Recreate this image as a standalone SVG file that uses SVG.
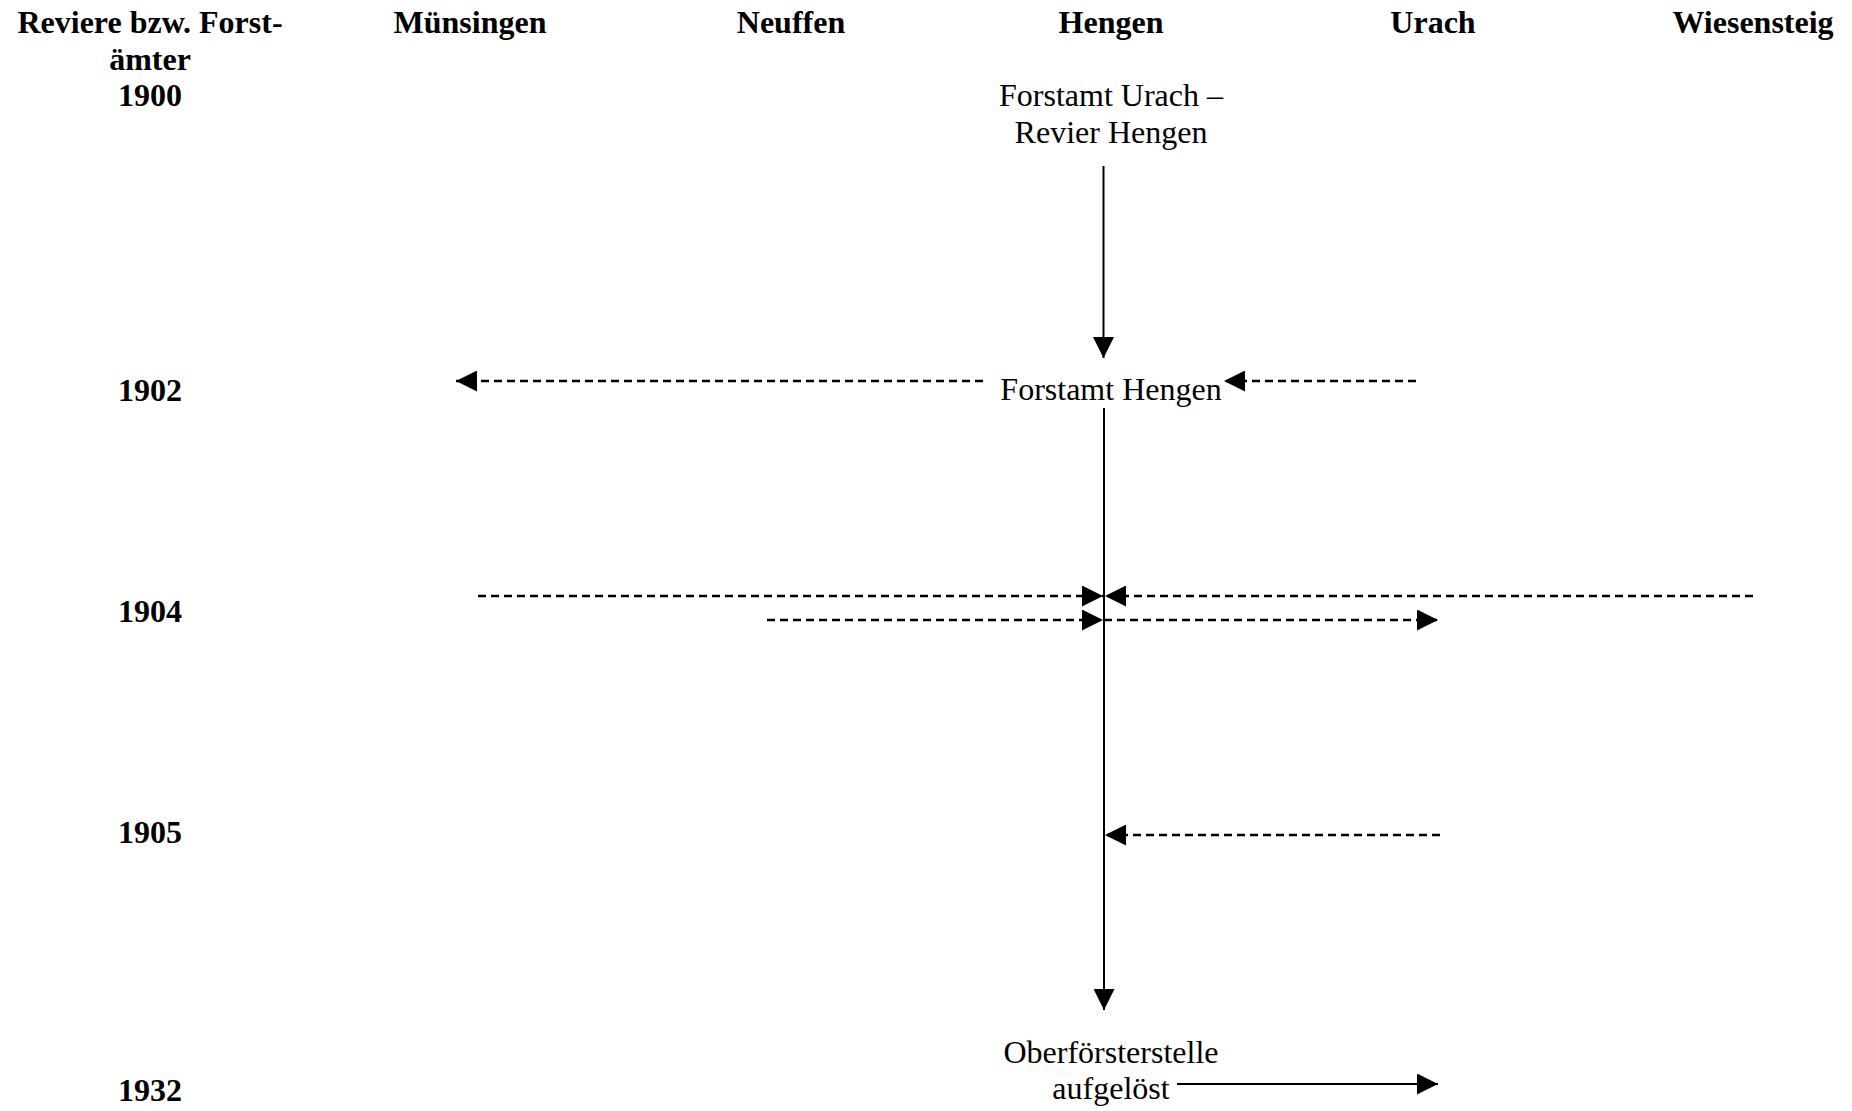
<svg xmlns="http://www.w3.org/2000/svg" width="1852" height="1111" viewBox="0 0 1852 1111">
<style>
  text { font-family: "Liberation Serif", "Times New Roman", serif; font-size: 32px; fill: #000; text-anchor: middle; }
  .b { font-weight: bold; }
  .ln { stroke: #000; stroke-width: 2; fill: none; }
  .dash { stroke-dasharray: 8 5; stroke-width: 2.5; }
</style>
<defs>
  <marker id="ah" markerUnits="userSpaceOnUse" markerWidth="21" markerHeight="21" viewBox="0 0 21 21" refX="21" refY="10.5" orient="auto">
    <path d="M0,0 L21,10.5 L0,21 z" fill="#000"/>
  </marker>
</defs>
<rect width="1852" height="1111" fill="#fff"/>
<g id="headers">
  <text class="b" x="150" y="33">Reviere bzw. Forst-</text>
  <text class="b" x="150" y="70">ämter</text>
  <text class="b" x="470" y="33">Münsingen</text>
  <text class="b" x="791" y="33">Neuffen</text>
  <text class="b" x="1111" y="33">Hengen</text>
  <text class="b" x="1433" y="33">Urach</text>
  <text class="b" x="1753" y="33">Wiesensteig</text>
</g>
<g id="years">
  <text class="b" x="150" y="106">1900</text>
  <text class="b" x="150" y="401">1902</text>
  <text class="b" x="150" y="622">1904</text>
  <text class="b" x="150" y="843">1905</text>
  <text class="b" x="150" y="1101">1932</text>
</g>
<g id="node-forstamt-urach">
  <text x="1111" y="106">Forstamt Urach –</text>
  <text x="1111" y="143">Revier Hengen</text>
</g>
<g id="node-forstamt-hengen">
  <text x="1111" y="400">Forstamt Hengen</text>
</g>
<g id="node-oberfoersterstelle">
  <text x="1111" y="1063">Oberförsterstelle</text>
  <text x="1111" y="1099">aufgelöst</text>
</g>
<g id="connectors">
  <line class="ln" x1="1103.5" y1="166" x2="1103.5" y2="358" marker-end="url(#ah)"/>
  <line class="ln" x1="1104" y1="408" x2="1104" y2="1010" marker-end="url(#ah)"/>
  <line class="ln dash" x1="983" y1="381" x2="456" y2="381" marker-end="url(#ah)"/>
  <line class="ln dash" x1="1416" y1="381" x2="1224" y2="381" marker-end="url(#ah)"/>
  <line class="ln dash" x1="478" y1="596" x2="1103" y2="596" marker-end="url(#ah)"/>
  <line class="ln dash" x1="1753" y1="596" x2="1105" y2="596" marker-end="url(#ah)"/>
  <line class="ln dash" x1="767" y1="620" x2="1103" y2="620" marker-end="url(#ah)"/>
  <line class="ln dash" x1="1104" y1="620" x2="1438" y2="620" marker-end="url(#ah)"/>
  <line class="ln dash" x1="1440" y1="835" x2="1105" y2="835" marker-end="url(#ah)"/>
  <line class="ln" x1="1177" y1="1084" x2="1438" y2="1084" marker-end="url(#ah)"/>
</g>
</svg>
